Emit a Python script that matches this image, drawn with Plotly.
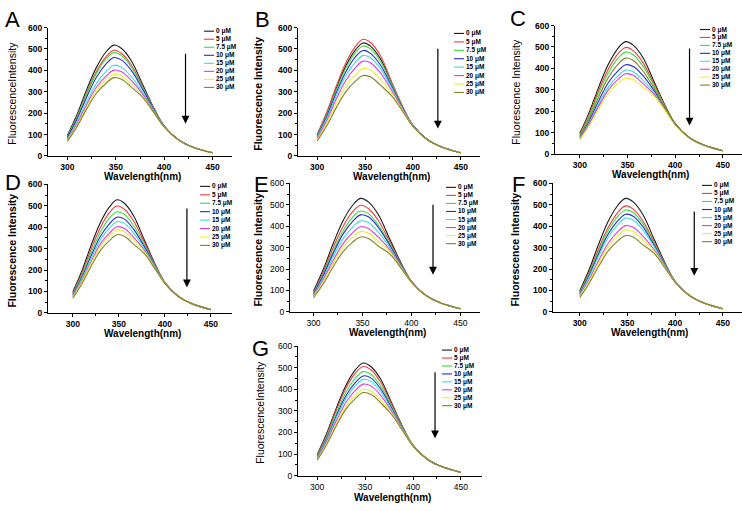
import plotly.graph_objects as go

# ---------------- data ----------------
WAVELENGTH = [300, 310, 320, 330, 340, 348, 356, 366, 378, 390, 400, 415, 430, 450]
CONCENTRATIONS = ["0 μM", "5 μM", "7.5 μM", "10 μM", "15 μM", "20 μM", "25 μM", "30 μM"]
PANEL_LABELS = ["A", "B", "C", "D", "E", "F", "G"]
X_TICKS = [300, 350, 400, 450]
Y_TICKS = [0, 100, 200, 300, 400, 500, 600]

PANEL_A = [
    [96, 194, 311, 414, 487, 518, 502, 445, 332, 218, 140, 75, 41, 15],
    [91, 185, 296, 395, 464, 494, 479, 425, 322, 215, 139, 75, 41, 15],
    [89, 181, 290, 386, 454, 483, 469, 416, 318, 213, 139, 75, 41, 15],
    [85, 173, 276, 368, 430, 460, 448, 400, 309, 210, 138, 75, 41, 15],
    [78, 159, 254, 339, 395, 424, 414, 371, 295, 206, 137, 74, 41, 15],
    [74, 150, 241, 321, 373, 401, 393, 353, 287, 203, 137, 74, 41, 15],
    [71, 143, 229, 306, 355, 382, 374, 336, 279, 200, 136, 74, 40, 15],
    [68, 137, 220, 293, 340, 366, 359, 322, 273, 198, 136, 74, 40, 15],
]
PANEL_B = [
    [98, 198, 317, 422, 496, 528, 512, 454, 338, 222, 143, 77, 42, 15],
    [101, 204, 327, 436, 512, 545, 529, 469, 344, 224, 143, 77, 42, 15],
    [95, 193, 308, 411, 483, 514, 499, 443, 333, 220, 142, 77, 42, 15],
    [91, 185, 296, 394, 463, 493, 478, 425, 324, 217, 142, 77, 42, 15],
    [87, 176, 282, 376, 439, 470, 458, 408, 316, 214, 141, 76, 42, 15],
    [82, 166, 266, 354, 413, 443, 434, 388, 305, 211, 140, 76, 42, 15],
    [75, 153, 245, 326, 380, 408, 400, 359, 292, 207, 139, 76, 41, 15],
    [70, 141, 226, 301, 350, 376, 369, 331, 280, 203, 138, 76, 41, 15],
]
PANEL_C = [
    [97, 197, 315, 420, 494, 525, 509, 452, 336, 221, 142, 76, 42, 15],
    [92, 187, 299, 398, 468, 498, 483, 428, 326, 217, 141, 76, 42, 15],
    [88, 179, 286, 381, 447, 476, 464, 412, 317, 214, 140, 76, 42, 15],
    [77, 156, 250, 334, 388, 417, 409, 367, 295, 207, 139, 75, 41, 15],
    [73, 147, 235, 314, 365, 392, 384, 345, 285, 204, 138, 75, 41, 15],
    [69, 141, 225, 300, 349, 375, 368, 330, 278, 202, 138, 75, 41, 15],
    [66, 133, 213, 284, 330, 355, 348, 312, 271, 199, 137, 75, 41, 15],
    [83, 168, 269, 358, 419, 448, 437, 389, 306, 211, 140, 76, 42, 15],
]
PANEL_D = [
    [98, 198, 317, 422, 496, 528, 512, 454, 338, 222, 143, 77, 42, 15],
    [92, 187, 299, 399, 469, 499, 484, 429, 327, 218, 142, 77, 42, 15],
    [87, 177, 283, 378, 444, 472, 460, 408, 316, 215, 141, 76, 42, 15],
    [83, 168, 268, 358, 417, 447, 438, 391, 307, 212, 140, 76, 42, 15],
    [79, 160, 256, 341, 397, 426, 418, 374, 299, 209, 140, 76, 42, 15],
    [74, 151, 241, 322, 374, 402, 394, 354, 290, 206, 139, 76, 41, 15],
    [72, 145, 232, 310, 360, 387, 379, 341, 284, 204, 139, 75, 41, 15],
    [68, 137, 219, 292, 339, 365, 358, 321, 275, 201, 138, 75, 41, 15],
]
PANEL_E = [
    [98, 199, 318, 424, 498, 530, 514, 456, 339, 223, 143, 77, 42, 15],
    [92, 187, 299, 398, 468, 498, 483, 428, 327, 219, 142, 77, 42, 15],
    [87, 177, 283, 377, 443, 471, 459, 407, 317, 215, 142, 77, 42, 15],
    [84, 170, 272, 362, 423, 453, 444, 396, 310, 213, 141, 77, 42, 15],
    [79, 159, 255, 340, 396, 425, 417, 374, 299, 209, 140, 76, 42, 15],
    [74, 149, 239, 318, 370, 398, 390, 350, 289, 206, 140, 76, 41, 15],
    [69, 141, 225, 300, 349, 375, 368, 330, 280, 203, 139, 76, 41, 15],
    [65, 131, 210, 280, 326, 350, 343, 308, 270, 200, 138, 75, 41, 15],
]
PANEL_F = [
    [98, 199, 318, 424, 498, 530, 514, 456, 339, 223, 143, 77, 42, 15],
    [92, 186, 297, 396, 465, 495, 480, 426, 326, 218, 142, 77, 42, 15],
    [88, 179, 286, 381, 447, 476, 464, 412, 318, 216, 142, 77, 42, 15],
    [84, 171, 274, 365, 426, 456, 447, 399, 311, 213, 141, 77, 42, 15],
    [81, 164, 263, 350, 409, 438, 429, 383, 304, 211, 141, 76, 42, 15],
    [75, 151, 242, 322, 375, 403, 395, 355, 290, 207, 140, 76, 41, 15],
    [71, 144, 230, 306, 356, 383, 375, 337, 283, 204, 139, 76, 41, 15],
    [66, 134, 214, 286, 332, 357, 350, 314, 273, 201, 138, 75, 41, 15],
]
PANEL_G = [
    [97, 196, 313, 418, 491, 522, 506, 449, 334, 219, 141, 76, 42, 15],
    [94, 190, 304, 405, 476, 506, 491, 435, 328, 217, 141, 76, 42, 15],
    [89, 181, 289, 386, 453, 482, 470, 417, 319, 214, 140, 76, 42, 15],
    [85, 173, 277, 370, 432, 462, 453, 404, 311, 212, 139, 76, 42, 15],
    [83, 167, 268, 357, 417, 446, 437, 390, 305, 210, 139, 76, 41, 15],
    [78, 159, 254, 339, 396, 424, 416, 373, 296, 207, 138, 75, 41, 15],
    [74, 150, 240, 320, 374, 400, 392, 352, 287, 204, 138, 75, 41, 15],
    [71, 144, 231, 308, 358, 385, 377, 339, 281, 202, 137, 75, 41, 15],
]
PANELS = [PANEL_A, PANEL_B, PANEL_C, PANEL_D, PANEL_E, PANEL_F, PANEL_G]

# quenching arrows (wavelength, start intensity, end intensity)
ARROW_X = [422, 426, 415, 424, 422, 420, 423]
ARROW_TOP = [485, 508, 500, 495, 508, 476, 486]
ARROW_BOTTOM = [151, 128, 133, 119, 174, 169, 173]

# ---------------- styles ----------------
W, H = 742, 511
FONT = "Arial, Liberation Sans, sans-serif"
COLORS = ["#1a1a1a", "#f03c3c", "#3cdc3c", "#2828d2", "#3cdcdc", "#e03ce0", "#f0f028", "#828228"]

# per-panel geometry in pixels
GEOM = [
    dict(x0=48, x1=232, yt=23, yb=154, xr=[280, 470], lx=204, ly=26.7, dy=8.2, letter=(12, 15),
         ytx=12, ytitle="FluorescenceIntensity", ytbold=False, tickbold=True, xty=174.5),
    dict(x0=298, x1=480, yt=23, yb=154, xr=[280, 470], lx=454, ly=29, dy=8.6, letter=(262, 15),
         ytx=258, ytitle="Fluorescence Intensity", ytbold=True, tickbold=True, xty=174.5),
    dict(x0=555, x1=742, yt=21, yb=152, xr=[274, 470], lx=700, ly=25, dy=8.1, letter=(518, 14),
         ytx=516, ytitle="Fluorescence Intensity", ytbold=False, tickbold=True, xty=172.5),
    dict(x0=48, x1=232, yt=183, yb=314, xr=[273, 473], lx=200, ly=185, dy=8.6, letter=(13, 181),
         ytx=12, ytitle="Fluorescence Intensity", ytbold=True, tickbold=True, xty=335),
    dict(x0=290, x1=480, yt=182, yb=313, xr=[276, 470], lx=446, ly=186, dy=8.2, letter=(261, 183),
         ytx=258, ytitle="Fluorescence Intensity", ytbold=True, tickbold=False, xty=334),
    dict(x0=553, x1=742, yt=182, yb=313, xr=[272, 470], lx=702, ly=184, dy=8.2, letter=(518, 183),
         ytx=515, ytitle="Fluorescence Intensity", ytbold=True, tickbold=True, xty=334),
    dict(x0=298, x1=482, yt=348, yb=480, xr=[280, 472], lx=442, ly=352, dy=8.1, letter=(260, 350),
         ytx=260, ytitle="FluorescenceIntensity", ytbold=False, tickbold=False, xty=502),
]


def px(x):
    return x / W


def py(y):
    return 1 - y / H


def b(s, bold):
    return f"<b>{s}</b>" if bold else s


fig = go.Figure()
layout = dict(
    width=W, height=H, margin=dict(l=0, r=0, t=0, b=0),
    paper_bgcolor="white", plot_bgcolor="white", showlegend=False,
    font=dict(family=FONT, color="black"),
)
annotations = []
shapes = []

for i, (data, g) in enumerate(zip(PANELS, GEOM)):
    sfx = "" if i == 0 else str(i + 1)
    xref, yref = "x" + sfx, "y" + sfx
    for j, series in enumerate(data):
        fig.add_trace(go.Scatter(
            x=WAVELENGTH, y=series, mode="lines", name=CONCENTRATIONS[j],
            line=dict(color=COLORS[j], width=1.1, shape="spline", smoothing=1.0),
            xaxis=xref, yaxis=yref, hoverinfo="skip",
        ))
    tickfont = dict(family=FONT, size=8.5, color="black")
    common = dict(showline=True, linecolor="black", linewidth=1, showgrid=False, zeroline=False,
                  ticks="outside", ticklen=3, tickwidth=1, tickcolor="black", tickfont=tickfont,
                  mirror=False)
    layout["xaxis" + sfx] = dict(
        common, domain=[px(g["x0"]), px(g["x1"])], range=g["xr"], anchor=yref,
        tickvals=X_TICKS, ticktext=[b(t, g["tickbold"]) for t in X_TICKS],
        minor=dict(ticks="outside", ticklen=2, tickvals=[325, 375, 425], tickcolor="black"),
    )
    layout["yaxis" + sfx] = dict(
        common, domain=[py(g["yb"]), py(g["yt"])], range=[0, 600], anchor=xref,
        tickvals=Y_TICKS, ticktext=[b(t, g["tickbold"]) for t in Y_TICKS],
        minor=dict(ticks="outside", ticklen=2, tickvals=[50, 150, 250, 350, 450, 550], tickcolor="black"),
    )
    # panel letter
    annotations.append(dict(text=PANEL_LABELS[i], x=px(g["letter"][0]), y=py(g["letter"][1]),
                            xref="paper", yref="paper", showarrow=False, xanchor="center", yanchor="middle",
                            font=dict(family=FONT, size=22, color="black")))
    # axis titles
    annotations.append(dict(text=b(g["ytitle"], g["ytbold"]), x=px(g["ytx"]),
                            y=py((g["yt"] + g["yb"]) / 2 + 2), xref="paper", yref="paper",
                            showarrow=False, textangle=-90, xanchor="center", yanchor="middle",
                            font=dict(family=FONT, size=10.5, color="black")))
    annotations.append(dict(text="<b>Wavelength(nm)</b>", x=px((g["x0"] + g["x1"]) / 2 + 2), y=py(g["xty"]),
                            xref="paper", yref="paper", showarrow=False, xanchor="center", yanchor="middle",
                            borderpad=0, font=dict(family=FONT, size=10, color="black")))
    # quench arrow
    annotations.append(dict(text="", x=ARROW_X[i], y=ARROW_BOTTOM[i], ax=ARROW_X[i], ay=ARROW_TOP[i],
                            xref=xref, yref=yref, axref=xref, ayref=yref, showarrow=True,
                            arrowhead=2, arrowsize=1.3, arrowwidth=1.2, arrowcolor="black", standoff=0))
    # hand-placed compact legend
    for j, lab in enumerate(CONCENTRATIONS):
        yy = g["ly"] + j * g["dy"]
        shapes.append(dict(type="line", xref="paper", yref="paper", x0=px(g["lx"]), x1=px(g["lx"] + 10),
                           y0=py(yy), y1=py(yy), line=dict(color=COLORS[j], width=1.1)))
        annotations.append(dict(text=f"<b>{lab}</b>", x=px(g["lx"] + 11), y=py(yy), xref="paper", yref="paper",
                                showarrow=False, xanchor="left", yanchor="middle", borderpad=0,
                                font=dict(family=FONT, size=6.5, color="black")))

layout["annotations"] = annotations
layout["shapes"] = shapes
fig.update_layout(**layout)
fig.write_html(
    "out.html",
    config={"displayModeBar": False},
    post_script="document.body.style.margin='0';document.body.style.overflow='hidden';",
)
